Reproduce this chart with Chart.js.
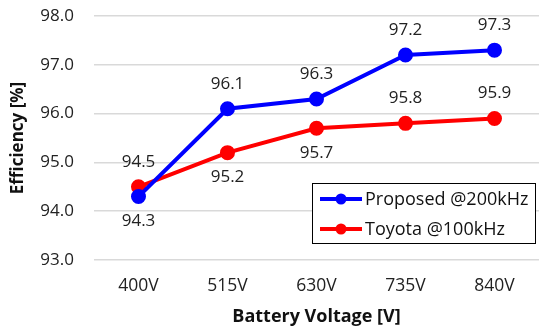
<!DOCTYPE html>
<html>
<head>
<meta charset="utf-8">
<script src="https://cdn.jsdelivr.net/npm/chart.js@4/dist/chart.umd.min.js"></script>
<style>
  html, body { margin: 0; padding: 0; background: #fff; }
  canvas { display: block; }
</style>
</head>
<body>
<canvas id="c" width="539" height="328"></canvas>
<script>
const categories = ['400V', '515V', '630V', '735V', '840V'];
const proposed = [94.3, 96.1, 96.3, 97.2, 97.3];
const toyota = [94.5, 95.2, 95.7, 95.8, 95.9];
// label placement per point: -1 above, 1 below
const proposedLabelSide = [1, -1, -1, -1, -1];
const toyotaLabelSide = [-1, 1, 1, -1, -1];
const yTicks = [93, 94, 95, 96, 97, 98];

const FONT = "'Open Sans', 'Noto Sans', sans-serif";

const valueLabels = {
  id: 'valueLabels',
  afterDatasetsDraw(chart) {
    const ctx = chart.ctx;
    ctx.save();
    ctx.font = '17px ' + FONT;
    ctx.fillStyle = '#222';
    ctx.textAlign = 'center';
    ctx.textBaseline = 'middle';
    const sides = [proposedLabelSide, toyotaLabelSide];
    chart.data.datasets.forEach((ds, i) => {
      const meta = chart.getDatasetMeta(i);
      meta.data.forEach((pt, j) => {
        const off = sides[i][j] < 0 ? -25 : 25;
        ctx.fillText(ds.data[j].toFixed(1), pt.x, pt.y + off);
      });
    });
    ctx.restore();
  }
};

const boxLegend = {
  id: 'boxLegend',
  afterDraw(chart) {
    const ctx = chart.ctx;
    const x = 312, y = 183, w = 223, h = 60;
    ctx.save();
    ctx.fillStyle = '#fff';
    ctx.fillRect(x, y, w, h);
    ctx.strokeStyle = '#000';
    ctx.lineWidth = 1;
    ctx.strokeRect(x + 0.5, y + 0.5, w, h);
    ctx.font = '18px ' + FONT;
    ctx.textBaseline = 'middle';
    ctx.textAlign = 'left';
    chart.data.datasets.forEach((ds, i) => {
      const ry = y + 16 + i * 30;
      ctx.strokeStyle = ds.borderColor;
      ctx.lineWidth = 4;
      ctx.beginPath();
      ctx.moveTo(x + 8, ry);
      ctx.lineTo(x + 50, ry);
      ctx.stroke();
      ctx.fillStyle = ds.borderColor;
      ctx.beginPath();
      ctx.arc(x + 29, ry, 5.5, 0, Math.PI * 2);
      ctx.fill();
      ctx.fillStyle = '#111';
      ctx.fillText(ds.label, x + 53, ry + 1);
    });
    ctx.restore();
  }
};

new Chart(document.getElementById('c'), {
  type: 'line',
  data: {
    labels: categories,
    datasets: [
      {
        label: 'Proposed @200kHz',
        data: proposed,
        borderColor: '#0000ff',
        backgroundColor: '#0000ff',
        borderWidth: 4,
        pointRadius: 5.5,
        pointHoverRadius: 5.5,
        tension: 0
      },
      {
        label: 'Toyota @100kHz',
        data: toyota,
        borderColor: '#ff0000',
        backgroundColor: '#ff0000',
        borderWidth: 4,
        pointRadius: 5.5,
        pointHoverRadius: 5.5,
        tension: 0
      }
    ]
  },
  options: {
    responsive: false,
    animation: false,
    devicePixelRatio: 1,
    layout: { autoPadding: false, padding: { top: 16, right: 0, bottom: 0, left: 0 } },
    plugins: {
      legend: { display: false },
      tooltip: { enabled: false }
    },
    scales: {
      x: {
        offset: true,
        grid: { display: false, drawTicks: false },
        border: { display: false },
        ticks: { color: '#222', font: { family: FONT, size: 17.5 }, padding: 16 },
        title: {
          display: true,
          text: 'Battery Voltage [V]',
          color: '#111',
          font: { family: FONT, size: 18, weight: 'bold' },
          padding: { top: 0, bottom: 0 }
        },
        afterFit(scale) {
          scale.height = 68;
          scale.paddingLeft = 0;
          scale.paddingRight = 0;
        }
      },
      y: {
        min: 93,
        max: 98,
        afterBuildTicks(scale) { scale.ticks = yTicks.map(v => ({ value: v })); },
        grid: { color: '#d9d9d9', lineWidth: 1.5, drawTicks: false },
        border: { display: false },
        ticks: {
          color: '#222',
          font: { family: FONT, size: 17 },
          padding: 20,
          callback: v => Number(v).toFixed(1)
        },
        title: {
          display: true,
          text: 'Efficiency [%]',
          color: '#111',
          font: { family: FONT, size: 17, weight: 'bold' },
          padding: { top: 8, bottom: 0 }
        },
        afterFit(scale) {
          scale.width = 94;
          scale.paddingTop = 0;
          scale.paddingBottom = 0;
        }
      }
    }
  },
  plugins: [valueLabels, boxLegend]
});
</script>
</body>
</html>
